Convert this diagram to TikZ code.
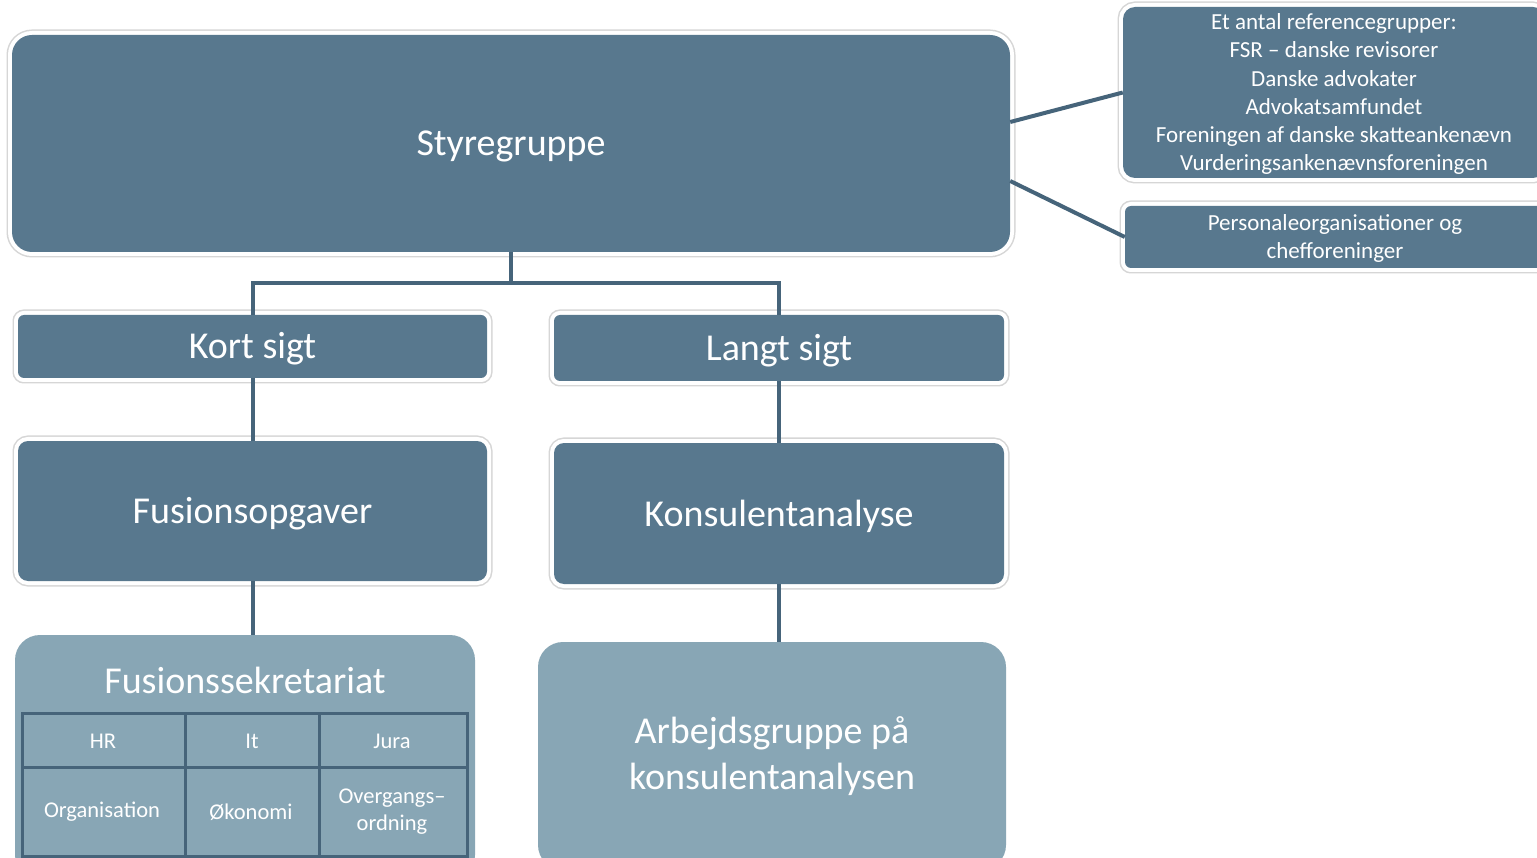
\documentclass[tikz,border=0pt]{standalone}
\usepackage{fontspec}
\setmainfont{Carlito}
\usetikzlibrary{positioning}
\definecolor{boxdark}{RGB}{88,120,142}
\definecolor{boxlight}{RGB}{136,166,181}
\definecolor{linedark}{RGB}{70,100,122}
\definecolor{glowgray}{RGB}{214,214,214}
\newcommand\bigtxt{\fontsize{38}{46}\selectfont}
\newcommand\smalltxt{\fontsize{23}{28.3}\selectfont}
\newcommand\celltxt{\fontsize{22.5}{27}\selectfont}
\newcommand\lowered[1]{\raisebox{-2.5pt}[\height][\depth]{#1}}
\newcommand\lowstack[1]{\raisebox{-2pt}[\height][\depth]{\begin{tabular}{@{}c@{}}#1\end{tabular}}}

\begin{document}
\begin{tikzpicture}[x=1pt,y=-1pt,
  darkbox/.style={fill=boxdark,text=white,rounded corners=#1,inner sep=0pt,align=center,
    preaction={draw=glowgray,line width=11pt},preaction={draw=white,line width=8pt}},
  darkbox/.default=8pt,
  lightbox/.style={fill=boxlight,text=white,rounded corners=25pt,inner sep=0pt,align=center},
  conn/.style={draw=linedark,line width=4pt},
  tablegrid/.style={draw=linedark,line width=3pt},
  cell/.style={text=white,font=\celltxt,align=center,inner sep=0pt}]
\path[use as bounding box,clip] (0,0) rectangle (1537,858);
\fill[white] (0,0) rectangle (1537,858);
\node[darkbox=20pt,minimum width=998pt,minimum height=217pt,font=\bigtxt] (styre) at (511,143.5) {\lowered{Styregruppe}};
\node[darkbox=12pt,minimum width=422pt,minimum height=171pt,font=\smalltxt] (refgrp) at (1334,92.5) {\lowstack{Et antal referencegrupper:\\FSR – danske revisorer\\Danske advokater\\Advokatsamfundet\\Foreningen af danske skatteankenævn\\Vurderingsankenævnsforeningen}};
\node[darkbox=6pt,minimum width=420pt,minimum height=62pt,font=\smalltxt] (persorg) at (1335,237) {\lowstack{Personaleorganisationer og\\chefforeninger}};
\node[darkbox=6pt,minimum width=469pt,minimum height=63pt,font=\bigtxt] (kort) at (252.5,346.5) {\lowered{Kort sigt}};
\node[darkbox=6pt,minimum width=450pt,minimum height=66pt,font=\bigtxt] (langt) at (779,348) {\lowered{Langt sigt}};
\node[darkbox=10pt,minimum width=469pt,minimum height=140pt,font=\bigtxt] (fusion) at (252.5,511) {\lowered{Fusionsopgaver}};
\node[darkbox=10pt,minimum width=450pt,minimum height=141pt,font=\bigtxt] (konsul) at (779,513.5) {\lowered{Konsulentanalyse}};
\node[lightbox,minimum width=460pt,minimum height=245pt] (sekr) at (245,757.5) {};
\node[text=white,font=\bigtxt,inner sep=0pt] (sekrtitle) at (245,680) {Fusionssekretariat};
\node[lightbox,minimum width=468pt,minimum height=228pt,font=\bigtxt] (arbejd) at (772,756) {Arbejdsgruppe på\\konsulentanalysen};
\draw[tablegrid] (22,713) rectangle (467,856);
\draw[tablegrid] (22,767) -- (467,767);
\foreach \x in {185,319}
  \draw[tablegrid] (\x,713) -- (\x,856);
\node[cell] (hr) at (103,741) {HR};
\node[cell] (it) at (252,741) {It};
\node[cell] (jura) at (392,741) {Jura};
\node[cell] (organ) at (102,812) {Organisation};
\node[cell] (oekon) at (251,812) {Økonomi};
\node[cell] (overg) at (392,812) {Overgangs–\\ordning};
\draw[conn] (styre.south) -- ++(0,31) coordinate (fork);
\draw[conn] (fork) -| (kort.north);
\draw[conn] (fork) -| (langt.north);
\draw[conn] (kort.south) -- (fusion.north);
\draw[conn] (langt.south) -- (konsul.north);
\draw[conn] (fusion.south) -- (fusion.south |- sekr.north);
\draw[conn] (konsul.south) -- (konsul.south |- arbejd.north);
\draw[conn] ([yshift=21.5pt]styre.east) -- (refgrp.west);
\draw[conn] ([yshift=-37.5pt]styre.east) -- (persorg.west);
\end{tikzpicture}
\end{document}
